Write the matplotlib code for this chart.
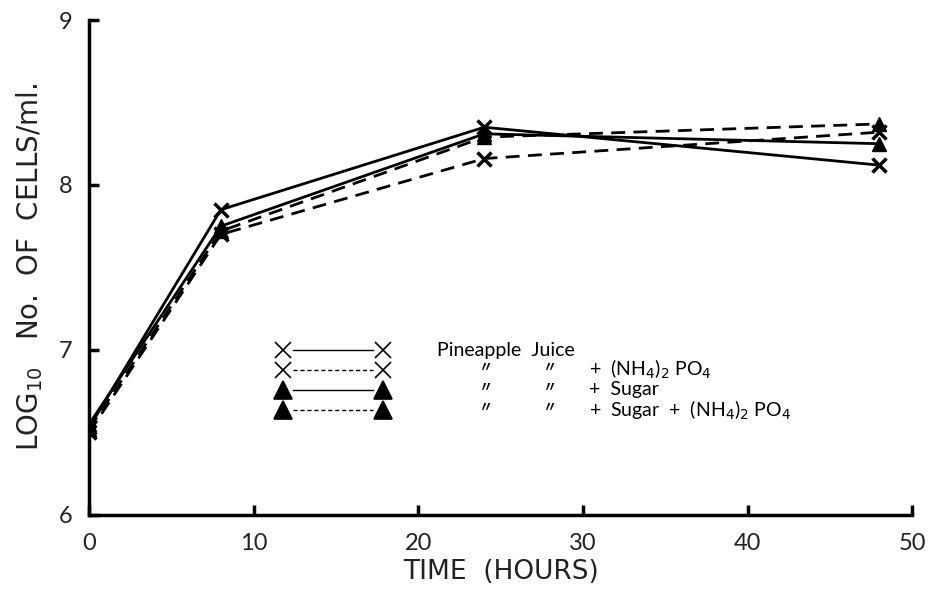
import matplotlib
matplotlib.use("Agg")
import matplotlib.pyplot as plt
from matplotlib.lines import Line2D

plt.rcParams['font.family'] = ['Lato', 'DejaVu Sans']

hours = [0, 8, 24, 48]
juice = [6.53, 7.85, 8.35, 8.12]
juice_nh4 = [6.50, 7.70, 8.16, 8.32]
juice_sugar = [6.55, 7.75, 8.31, 8.25]
juice_sugar_nh4 = [6.52, 7.72, 8.29, 8.37]

x_ticks = [0, 10, 20, 30, 40, 50]
y_ticks = [6, 7, 8, 9]

fig = plt.figure(figsize=(9.29, 5.89), dpi=100)
ax = fig.add_axes([0.096, 0.126, 0.886, 0.840])

ax.plot(hours, juice, '-', color='black', lw=2.0, marker='x', ms=10, mew=2.5)
ax.plot(hours, juice_nh4, color='black', lw=2.0, ls=(0, (5, 3)), marker='x', ms=10, mew=2.5)
ax.plot(hours, juice_sugar, '-', color='black', lw=2.0, marker='^', ms=10)
ax.plot(hours, juice_sugar_nh4, color='black', lw=2.0, ls=(0, (5, 3)), marker='^', ms=10)

ax.set_xlim(0, 50)
ax.set_ylim(6, 9)
ax.set_xticks(x_ticks)
ax.set_yticks(y_ticks)
ax.tick_params(direction='in', length=7, width=2.5, labelsize=17, labelcolor='#222222')
ax.tick_params(axis='x', pad=13)
ax.tick_params(axis='y', pad=12)
for s in ['top', 'right']:
    ax.spines[s].set_visible(False)
for s in ['left', 'bottom']:
    ax.spines[s].set_linewidth(2.5)

ax.set_xlabel('TIME  (HOURS)', fontsize=19, labelpad=4, color='#222222',
              family=['DejaVu Sans'])
ax.set_ylabel('LOG$_{10}$   No.  OF  CELLS/ml.', fontsize=20, labelpad=10,
              color='#222222', family=['DejaVu Sans'])

# hand-drawn style legend
rows = [0.333, 0.293, 0.253, 0.212]
styles = [('x', '-'), ('x', (0, (3, 2))), ('^', '-'), ('^', (0, (3, 2)))]
x0, x1 = 0.236, 0.357
for y, (m, ls) in zip(rows, styles):
    ax.add_line(Line2D([x0 + 0.012, x1 - 0.012], [y, y], transform=ax.transAxes,
                       color='black', lw=1.0, ls=ls))
    for xx in (x0, x1):
        ax.add_line(Line2D([xx], [y], transform=ax.transAxes, color='black',
                           marker=m, ms=11 if m == 'x' else 13, mew=1.2, ls='none'))

fs = 14
ax.text(0.423, rows[0], 'Pineapple  Juice', transform=ax.transAxes, fontsize=fs, va='center')
for y in rows[1:]:
    ax.text(0.474, y - 0.01, '\u2033', transform=ax.transAxes, fontsize=16, va='center', style='italic')
    ax.text(0.551, y - 0.01, '\u2033', transform=ax.transAxes, fontsize=16, va='center', style='italic')
ax.text(0.607, rows[1], '+  (NH$_4$)$_2$ PO$_4$', transform=ax.transAxes, fontsize=fs, va='center')
ax.text(0.607, rows[2], '+  Sugar', transform=ax.transAxes, fontsize=fs, va='center')
ax.text(0.607, rows[3], '+  Sugar  +  (NH$_4$)$_2$ PO$_4$', transform=ax.transAxes, fontsize=fs, va='center')

fig.savefig('out.png', dpi=100)
